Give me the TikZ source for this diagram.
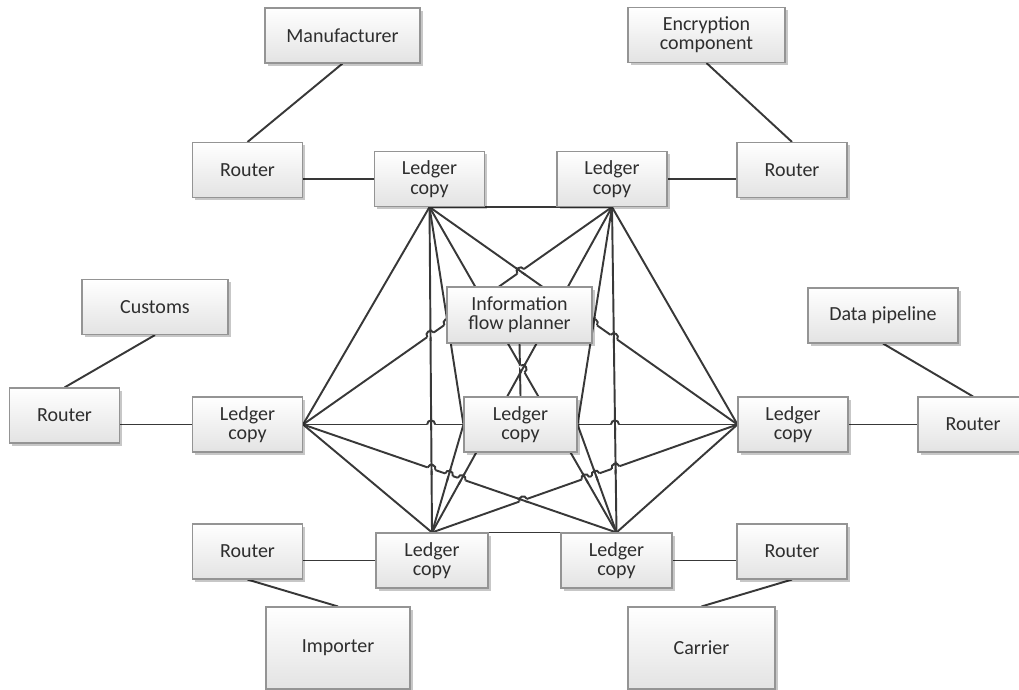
\documentclass[tikz,border=0pt]{standalone}
\usepackage{fontspec}
\setmainfont{Carlito}
\usetikzlibrary{calc,shadows,backgrounds}

\tikzset{
  wire/.style={draw=black!78, line width=1.45pt},
  eraser/.style={draw=white, line width=2.8pt},
  box/.style={draw=black!42, line width=0.8pt, top color=white, bottom color=black!11,
    drop shadow={shadow xshift=2pt, shadow yshift=-2pt, opacity=0.22, fill=black},
    font=\fontsize{15}{14.5}\selectfont, text=black!82, align=center, inner sep=0pt,
    minimum width=82.5pt, minimum height=41.25pt},
  wd/.style={minimum width={#1*0.75pt}},
  ht/.style={minimum height={#1*0.75pt}},
}

% line #1--#2 (left end first) jumps over line #3--#4
\newcommand\linejump[4]{%
  \coordinate (hx) at (intersection of #1--#2 and #3--#4);
  \coordinate (ha) at ($(hx)!3pt!(#1)$);
  \coordinate (hb) at ($(hx)!3pt!(#2)$);
  \draw[eraser] (ha) -- (hb);
  \draw[wire] ($(hx)!4.5pt!(#3)$) -- ($(hx)!4.5pt!(#4)$);
  \draw[wire] (ha) .. controls ($(ha)!4pt!90:(hb)$) and ($(hb)!4pt!-90:(ha)$) .. (hb);
}

\begin{document}
\begin{tikzpicture}[x=0.75pt,y=-0.75pt]
\useasboundingbox (0,0) rectangle (1019,689);

% outer parties
\node[box,wd=155] (man) at (342.5,35.5) {Manufacturer};
\node[box,wd=157] (enc) at (706.5,35) {Encryption\\component};
\node[box,wd=146] (cus) at (155,307) {Customs};
\node[box,wd=150] (dp)  at (883,315.5) {Data pipeline};
\node[box,wd=144,ht=82] (imp) at (338,648) {Importer};
\node[box,wd=147,ht=82] (car) at (701.5,648) {Carrier};

% routers
\node[box] (rtl) at (247.5,170) {Router};
\node[box] (rtr) at (792,170) {Router};
\node[box] (rl)  at (64.5,415.5) {Router};
\node[box] (rr)  at (973,424.5) {Router};
\node[box] (rbl) at (247.5,551.5) {Router};
\node[box] (rbr) at (792,551.5) {Router};

% ledger copies
\node[box] (L1) at (429.5,179) {Ledger\\copy};
\node[box] (L2) at (612,179) {Ledger\\copy};
\node[box] (L3) at (247.5,424.5) {Ledger\\copy};
\node[box] (L4) at (793,424.5) {Ledger\\copy};
\node[box,wd=112] (L5) at (432,560.5) {Ledger\\copy};
\node[box,wd=111] (L6) at (616.5,560.5) {Ledger\\copy};
\node[box,wd=113] (C)  at (520.5,424.5) {Ledger\\copy};
\node[box,wd=145,ht=56] (plan) at (519.5,315) {Information\\flow planner};

\begin{scope}[on background layer]
  % routers to their ledgers and outer parties
  \draw[wire] (L1.west) -- (L1.west -| rtl.east);
  \draw[wire] (L2.east) -- (L2.east -| rtr.west);
  \draw[wire] (L3.west) -- (L3.west -| rl.east);
  \draw[wire] (L4.east) -- (L4.east -| rr.west);
  \draw[wire] (L5.west) -- (L5.west -| rbl.east);
  \draw[wire] (L6.east) -- (L6.east -| rbr.west);
  \draw[wire] (rtl.north) -- (man.south);
  \draw[wire] (rtr.north) -- (enc.south);
  \draw[wire] (rl.north) -- (cus.south);
  \draw[wire] (rr.north) -- (dp.south);
  \draw[wire] (rbl.south) -- (imp.north);
  \draw[wire] (rbr.south) -- (car.north);

  % mesh between ledger copies
  \coordinate (P1) at (L1.south);
  \coordinate (P2) at (L2.south);
  \coordinate (P3) at (L3.east);
  \coordinate (P4) at (L4.west);
  \coordinate (P5) at (L5.north);
  \coordinate (P6) at (L6.north);
  \coordinate (Cl) at (C.west);
  \coordinate (Cr) at (C.east);
  \foreach \a/\b in {P1/P2,P1/P3,P1/P4,P1/P5,P1/P6,P2/P3,P2/P4,P2/P5,P2/P6,
                     P3/P4,P3/P5,P3/P6,P4/P5,P4/P6,P5/P6,P1/Cl,P5/Cl,P2/Cr,P6/Cr}
    \draw[wire] (\a) -- (\b);
  \draw[wire] (plan.south) -- (C.north);

  % line jumps at crossings
  \linejump{P3}{P2}{P1}{P4}
  \linejump{P1}{P4}{P2}{P6}
  \linejump{P3}{P2}{P1}{P5}
  \linejump{P3}{P4}{P1}{P5}
  \linejump{P3}{P6}{P1}{P5}
  \linejump{P1}{P6}{P2}{P5}
  \linejump{P5}{P4}{P1}{P6}
  \linejump{P3}{P6}{P2}{P5}
  \linejump{P3}{P4}{P2}{P6}
  \linejump{P5}{P4}{P2}{P6}
  \linejump{P5}{P4}{P3}{P6}
  \linejump{P3}{P2}{P1}{Cl}
  \linejump{P3}{P6}{P5}{Cl}
  \linejump{P1}{P4}{P2}{Cr}
  \linejump{P5}{P4}{P6}{Cr}
\end{scope}
\end{tikzpicture}
\end{document}
